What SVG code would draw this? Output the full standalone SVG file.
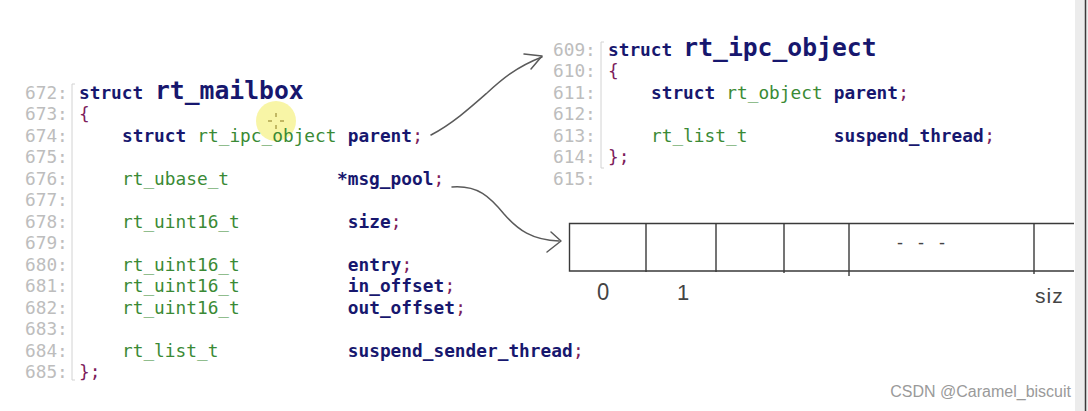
<svg xmlns="http://www.w3.org/2000/svg" width="1088" height="411" viewBox="0 0 1088 411">
<style>
.c{font-family:"DejaVu Sans Mono","Liberation Mono",monospace;font-size:17.8px}
.ln{fill:#bdbdbd}
.kw{fill:#17176e;font-weight:bold}
.id{fill:#17176e;font-weight:bold}
.ty{fill:#3a8a35}
.pu{fill:#7d1d5c}
.big{font-size:24.7px;font-weight:bold;fill:#17176e}
.gut{fill:none;stroke:#d2d2d2;stroke-width:1}
.hand{fill:none;stroke:#5a5a5a;stroke-width:1.5;stroke-linecap:round;stroke-linejoin:round}
.box{fill:none;stroke:#3a3a3a;stroke-width:1.4}
.hw{font-family:"Liberation Sans",sans-serif;fill:#444}
</style>
<rect width="1088" height="411" fill="#ffffff"/>
<g id="cursor">
<circle cx="276" cy="121" r="20" fill="#f3ee6a" opacity="0.6"/>
<path d="M276,113v4M276,125v4M268,121h4M280,121h4" stroke="#8a7a20" stroke-width="1" fill="none"/>
</g>
<g id="rt_mailbox" class="c">
<path class="gut" d="M75,84H72V380H75"/>
<text y="98.5"><tspan class="ln" x="25">672:</tspan><tspan class="kw" x="79">struct</tspan><tspan class="big" x="155">rt_mailbox</tspan></text>
<text y="120"><tspan class="ln" x="25">673:</tspan><tspan class="pu" x="79">{</tspan></text>
<text y="141.5"><tspan class="ln" x="25">674:</tspan><tspan class="kw" x="122">struct</tspan><tspan class="ty" x="197.3">rt_ipc_object</tspan><tspan class="id" x="347.8">parent</tspan><tspan class="pu" x="412.3">;</tspan></text>
<text y="163"><tspan class="ln" x="25">675:</tspan></text>
<text y="184.5"><tspan class="ln" x="25">676:</tspan><tspan class="ty" x="122">rt_ubase_t</tspan><tspan class="id" x="337">*msg_pool</tspan><tspan class="pu" x="433.5">;</tspan></text>
<text y="206"><tspan class="ln" x="25">677:</tspan></text>
<text y="227.5"><tspan class="ln" x="25">678:</tspan><tspan class="ty" x="122">rt_uint16_t</tspan><tspan class="id" x="347.8">size</tspan><tspan class="pu" x="390.8">;</tspan></text>
<text y="249"><tspan class="ln" x="25">679:</tspan></text>
<text y="270.5"><tspan class="ln" x="25">680:</tspan><tspan class="ty" x="122">rt_uint16_t</tspan><tspan class="id" x="347.8">entry</tspan><tspan class="pu" x="401.5">;</tspan></text>
<text y="292"><tspan class="ln" x="25">681:</tspan><tspan class="ty" x="122">rt_uint16_t</tspan><tspan class="id" x="347.8">in_offset</tspan><tspan class="pu" x="444.5">;</tspan></text>
<text y="313.5"><tspan class="ln" x="25">682:</tspan><tspan class="ty" x="122">rt_uint16_t</tspan><tspan class="id" x="347.8">out_offset</tspan><tspan class="pu" x="455.2">;</tspan></text>
<text y="335"><tspan class="ln" x="25">683:</tspan></text>
<text y="356.5"><tspan class="ln" x="25">684:</tspan><tspan class="ty" x="122">rt_list_t</tspan><tspan class="id" x="347.8">suspend_sender_thread</tspan><tspan class="pu" x="573">;</tspan></text>
<text y="378"><tspan class="ln" x="25">685:</tspan><tspan class="pu" x="79">};</tspan></text>
</g>
<g id="rt_ipc_object" class="c">
<path class="gut" d="M604,42H601V168H604"/>
<text y="55.5"><tspan class="ln" x="553">609:</tspan><tspan class="kw" x="608">struct</tspan><tspan class="big" x="683.3">rt_ipc_object</tspan></text>
<text y="77"><tspan class="ln" x="553">610:</tspan><tspan class="pu" x="608">{</tspan></text>
<text y="98.5"><tspan class="ln" x="553">611:</tspan><tspan class="kw" x="651">struct</tspan><tspan class="ty" x="726.3">rt_object</tspan><tspan class="id" x="833.8">parent</tspan><tspan class="pu" x="898.3">;</tspan></text>
<text y="120"><tspan class="ln" x="553">612:</tspan></text>
<text y="141.5"><tspan class="ln" x="553">613:</tspan><tspan class="ty" x="651">rt_list_t</tspan><tspan class="id" x="833.8">suspend_thread</tspan><tspan class="pu" x="984.3">;</tspan></text>
<text y="163"><tspan class="ln" x="553">614:</tspan><tspan class="pu" x="608">};</tspan></text>
<text y="184.5"><tspan class="ln" x="553">615:</tspan></text>
</g>
<g id="msg_pool_array">
<path class="box" d="M1074,223.5H569.5V271H1074"/>
<path class="box" d="M646,223.5V272M716,223.5V272M784,223.5V273M849,223.5V276M1034,223.5V274"/>
<text class="hw" x="897" y="249" font-size="18" letter-spacing="5">- - -</text>
<text class="hw" x="597" y="300" font-size="22" transform="translate(597 300) scale(1 1.1) translate(-597 -300)">0</text>
<text class="hw" x="677" y="300" font-size="22">1</text>
<text class="hw" x="1035" y="303" font-size="21" letter-spacing="1">siz</text>
</g>
<g id="connectors">
<path class="hand" d="M431,135C452,124 470,108 487,93C501,80 516,67 542,57"/>
<path class="hand" d="M524,54L542,56L531,69"/>
<path class="hand" d="M452,187C478,185 490,197 504,214C518,230 532,240 559,241"/>
<path class="hand" d="M551,232L561,241L547,252"/>
</g>
<g id="frame">
<rect x="1075" y="0" width="13" height="411" fill="#ececec"/>
<line x1="1085.5" y1="0" x2="1085.5" y2="411" stroke="#3a3a3a" stroke-width="1.5"/>
</g>
<text x="1071" y="397" text-anchor="end" font-family="Liberation Sans,sans-serif" font-size="16" fill="#9a9a9a">CSDN @Caramel_biscuit</text>
</svg>
